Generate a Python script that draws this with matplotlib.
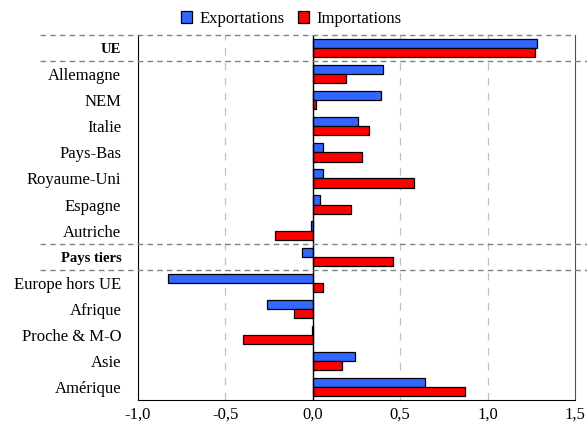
import matplotlib.pyplot as plt
import numpy as np

# Contributions par zone
labels = ['UE', 'Allemagne', 'NEM', 'Italie', 'Pays-Bas', 'Royaume-Uni', 'Espagne',
          'Autriche', 'Pays tiers', 'Europe hors UE', 'Afrique', 'Proche & M-O',
          'Asie', 'Amérique']
exports = [1.28, 0.40, 0.39, 0.26, 0.057, 0.057, 0.042, -0.01, -0.06, -0.83,
           -0.26, -0.004, 0.24, 0.64]
imports = [1.27, 0.19, 0.017, 0.32, 0.28, 0.58, 0.218, -0.216, 0.458, 0.057,
           -0.108, -0.40, 0.165, 0.87]
bold_rows = ['UE', 'Pays tiers']
xticks = [-1.0, -0.5, 0.0, 0.5, 1.0, 1.5]

plt.rcParams['font.family'] = ['Liberation Serif', 'DejaVu Serif']

fig = plt.figure(figsize=(5.87, 4.28), dpi=100)
ax = fig.add_axes([0.235, 0.0654, 0.7446, 0.8526])

y = np.arange(len(labels))
h = 0.35
ax.barh(y - h / 2, exports, height=h, color='#3366FF', edgecolor='black',
        linewidth=0.9, label='Exportations', zorder=3)
ax.barh(y + h / 2, imports, height=h, color='#FF0000', edgecolor='black',
        linewidth=0.9, label='Importations', zorder=3)

ax.set_xlim(-1.0, 1.5)
ax.set_ylim(len(labels) - 0.5, -0.5)

for gx in [-0.5, 0.5, 1.0]:
    ax.axvline(gx, color='#C0C0C0', linewidth=0.9, dashes=(6, 6), zorder=1)
ax.axvline(0, color='black', linewidth=1.0, zorder=4)

# separating dashed lines, running into the label area
for yy, x1 in [(-0.5, 1.0), (0.5, 1.03), (7.5, 1.03), (8.5, 1.03)]:
    ax.plot([-0.224, x1], [yy, yy], transform=ax.get_yaxis_transform(),
            color='#808080', linewidth=1.0, dashes=(4, 3), clip_on=False, zorder=5)

ax.spines['top'].set_visible(False)
ax.spines['right'].set_color('#505050')
ax.spines['left'].set_color('black')
ax.spines['bottom'].set_color('black')

ax.set_xticks(xticks)
ax.set_xticklabels([f'{v:.1f}'.replace('.', ',') for v in xticks], fontsize=12)
ax.tick_params(axis='x', length=0, pad=5)
ax.set_yticks(y)
ax.set_yticklabels(labels, fontsize=12)
ax.tick_params(axis='y', length=0, pad=12)
for t in ax.get_yticklabels():
    if t.get_text() in bold_rows:
        t.set_fontweight('bold')
        t.set_fontsize(10.5)

ax.legend(loc='lower center', bbox_to_anchor=(0.35, 0.995), ncol=2, frameon=False,
          fontsize=12, handlelength=0.7, handleheight=0.7, handletextpad=0.4,
          columnspacing=0.8, borderpad=0.1)

fig.savefig('out.png', dpi=100)
